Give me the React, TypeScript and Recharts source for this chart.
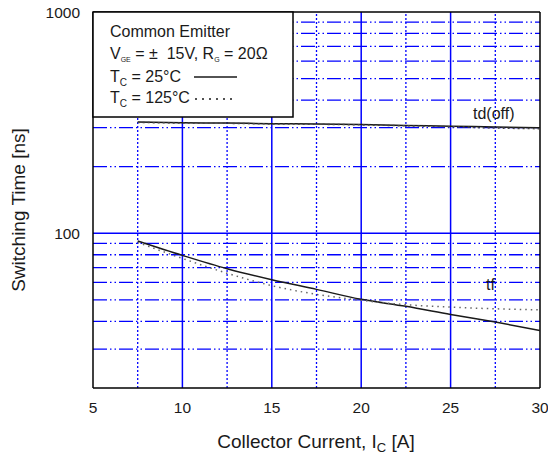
import React from 'react';
import { LineChart, Line, XAxis, YAxis, ReferenceLine } from 'recharts';

const currents = [7.5, 10, 12.5, 15, 17.5, 20, 22.5, 25, 27.5, 30];
const tdOff25 = [318, 316, 315, 313, 312, 310, 307, 305, 302, 300];
const tdOff125 = [317, 315, 314, 312, 311, 309, 306, 303, 299, 297];
const tf25 = [92.3, 79.5, 69.2, 61.7, 55.8, 50.3, 46.8, 43.0, 39.7, 36.4];
const tf125 = [91, 77, 66, 58, 53, 49.8, 47.6, 46.4, 45.6, 45.1];

const xTicks = [5, 10, 15, 20, 25, 30];
const yTicks = [100, 1000];
const xMajorGrid = [10, 15, 20, 25];
const xMinorGrid = [7.5, 12.5, 17.5, 22.5, 27.5];
const yMajorGrid = [100];
const yMinorGrid = [30, 40, 50, 60, 70, 80, 90, 200, 300, 400, 500, 600, 700, 800, 900];

const data = currents.map((c, i) => ({
  ic: c,
  td25: tdOff25[i],
  td125: tdOff125[i],
  tf25: tf25[i],
  tf125: tf125[i],
}));

const FONT = '"Liberation Sans", Arial, Helvetica, sans-serif';
const BLUE = '#0000ff';
const INK = '#1a1a1a';

export default function App() {
  return (
    <div style={{ position: 'absolute', left: 0, top: 0, width: 548, height: 457, background: '#fff' }}>
      <LineChart
        width={548}
        height={457}
        data={data}
        margin={{ top: 12, right: 8, bottom: 0, left: 0 }}
        style={{ fontFamily: FONT }}
      >
        <XAxis
          dataKey="ic"
          type="number"
          domain={[5, 30]}
          ticks={xTicks}
          height={69}
          tickLine={false}
          tickSize={0}
          tickMargin={14}
          axisLine={{ stroke: '#000', strokeWidth: 1.5 }}
          tick={{ fontSize: 15.5, fill: INK, fontFamily: FONT }}
          allowDataOverflow
        />
        <YAxis
          type="number"
          scale="log"
          domain={[20, 1000]}
          ticks={yTicks}
          width={93}
          tickLine={false}
          tickSize={0}
          tickMargin={13}
          axisLine={{ stroke: '#000', strokeWidth: 1.5 }}
          tick={{ fontSize: 15.5, fill: INK, fontFamily: FONT }}
          allowDataOverflow
        />
        {yMinorGrid.map((v) => (
          <ReferenceLine key={'hy' + v} y={v} stroke={BLUE} strokeWidth={1.3} strokeDasharray="14 3 1.5 3 1.5 3" />
        ))}
        {xMinorGrid.map((v) => (
          <ReferenceLine key={'mx' + v} x={v} stroke={BLUE} strokeWidth={1.3} strokeDasharray="2 2" />
        ))}
        {xMajorGrid.map((v) => (
          <ReferenceLine key={'Mx' + v} x={v} stroke={BLUE} strokeWidth={1.5} />
        ))}
        {yMajorGrid.map((v) => (
          <ReferenceLine key={'My' + v} y={v} stroke={BLUE} strokeWidth={1.5} />
        ))}
        <ReferenceLine y={1000} stroke="#000" strokeWidth={1.5} />
        <ReferenceLine x={30} stroke="#000" strokeWidth={1.5} />
        <Line dataKey="td25" type="monotone" stroke={INK} strokeWidth={1.5} dot={false} isAnimationActive={false} />
        <Line dataKey="td125" type="monotone" stroke="#444" strokeWidth={1.5} strokeDasharray="2 3" dot={false} isAnimationActive={false} />
        <Line dataKey="tf25" type="monotone" stroke={INK} strokeWidth={1.5} dot={false} isAnimationActive={false} />
        <Line dataKey="tf125" type="monotone" stroke="#666" strokeWidth={1.5} strokeDasharray="1.5 4" dot={false} isAnimationActive={false} />
      </LineChart>
      <svg
        width={548}
        height={457}
        style={{ position: 'absolute', left: 0, top: 0, pointerEvents: 'none' }}
        fontFamily={FONT}
        fill={INK}
      >
        <rect x={93} y={12} width={200} height={105} fill="#fff" stroke="#000" strokeWidth={1.5} />
        <text x={110} y={37} fontSize={16}>Common Emitter</text>
        <text x={110} y={59} fontSize={16} style={{ whiteSpace: 'pre' }}>
          V<tspan fontSize={7} dy={3}>GE</tspan>
          <tspan dy={-3}>{' = ±  15V, R'}</tspan>
          <tspan fontSize={7} dy={3}>G</tspan>
          <tspan dy={-3}>{' = 20Ω'}</tspan>
        </text>
        <text x={110} y={82} fontSize={16} style={{ whiteSpace: 'pre' }}>
          T<tspan fontSize={10} dy={4}>C</tspan>
          <tspan dy={-4}>{' = 25°C'}</tspan>
        </text>
        <line x1={194} x2={237} y1={77} y2={77} stroke={INK} strokeWidth={1.5} />
        <text x={110} y={103} fontSize={16} style={{ whiteSpace: 'pre' }}>
          T<tspan fontSize={10} dy={4}>C</tspan>
          <tspan dy={-4}>{' = 125°C'}</tspan>
        </text>
        <line x1={195} x2={233} y1={99} y2={99} stroke={INK} strokeWidth={1.5} strokeDasharray="2 5" />
        <text x={473} y={119} fontSize={16}>td(off)</text>
        <text x={486} y={290} fontSize={16}>tf</text>
        <text transform="translate(25,210) rotate(-90)" textAnchor="middle" fontSize={19}>
          Switching Time [ns]
        </text>
        <text x={316} y={448} textAnchor="middle" fontSize={19} style={{ whiteSpace: 'pre' }}>
          Collector Current, I<tspan fontSize={13} dy={4}>C</tspan>
          <tspan dy={-4}>{' [A]'}</tspan>
        </text>
      </svg>
    </div>
  );
}
